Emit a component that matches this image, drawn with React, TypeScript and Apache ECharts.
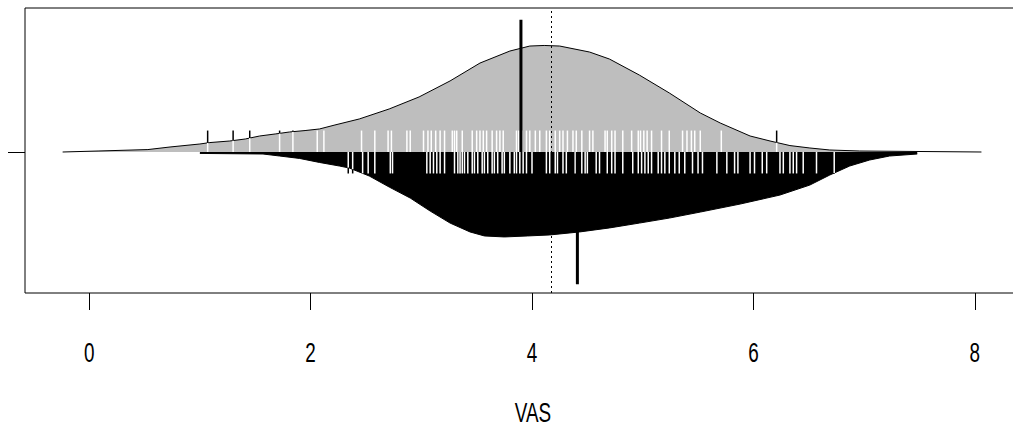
import React, { useEffect, useRef } from "react";
import * as echarts from "echarts";

// ---- data ----
const xTicks = [0, 2, 4, 6, 8];
const axisTitle = "VAS";

// grey (upper) half: density outline
const greyDensX = [-0.24, 0.08, 0.53, 0.73, 1.0, 1.09, 1.27, 1.41, 1.54, 1.68, 1.81, 1.95, 2.08, 2.22, 2.44, 2.71, 2.98, 3.26, 3.53, 3.8, 3.98, 4.11, 4.25, 4.52, 4.7, 4.97, 5.24, 5.52, 5.7, 5.97, 6.15, 6.33, 6.51, 6.69, 6.96, 8.06];
const greyDensY = [0, 0.007, 0.017, 0.035, 0.056, 0.066, 0.077, 0.091, 0.112, 0.126, 0.14, 0.15, 0.161, 0.189, 0.231, 0.301, 0.385, 0.497, 0.622, 0.706, 0.741, 0.745, 0.741, 0.699, 0.65, 0.538, 0.413, 0.273, 0.203, 0.112, 0.077, 0.045, 0.028, 0.014, 0.007, 0];

// black (lower) half: density outline (drawn downward)
const blackDensX = [1.0, 1.57, 1.72, 1.9, 2.08, 2.26, 2.35, 2.53, 2.71, 2.9, 3.08, 3.26, 3.44, 3.57, 3.75, 3.96, 4.16, 4.43, 4.7, 4.97, 5.24, 5.52, 5.88, 6.24, 6.51, 6.69, 6.87, 7.05, 7.23, 7.48];
const blackDensY = [-0.01, -0.014, -0.028, -0.045, -0.073, -0.098, -0.112, -0.168, -0.245, -0.322, -0.413, -0.497, -0.559, -0.587, -0.594, -0.587, -0.58, -0.559, -0.531, -0.497, -0.462, -0.42, -0.364, -0.301, -0.231, -0.161, -0.098, -0.056, -0.028, -0.014];

// individual observations (bean lines)
const greyRug = [1.07, 1.3, 1.45, 1.72, 1.84, 2.06, 2.12, 2.46, 2.58, 2.7, 2.73, 2.87, 2.9, 3.02, 3.06, 3.09, 3.13, 3.17, 3.21, 3.28, 3.3, 3.32, 3.37, 3.46, 3.5, 3.53, 3.56, 3.59, 3.64, 3.68, 3.71, 3.74, 3.86, 3.88, 3.91, 3.95, 3.98, 4.03, 4.07, 4.13, 4.16, 4.21, 4.25, 4.28, 4.32, 4.37, 4.4, 4.45, 4.52, 4.55, 4.66, 4.68, 4.72, 4.75, 4.82, 4.9, 4.96, 4.98, 5.01, 5.04, 5.08, 5.17, 5.24, 5.36, 5.4, 5.44, 5.47, 5.52, 5.71, 6.21];
const blackRug = [2.34, 2.38, 2.47, 2.52, 2.58, 2.72, 2.74, 3.05, 3.08, 3.11, 3.14, 3.17, 3.21, 3.3, 3.33, 3.35, 3.37, 3.39, 3.42, 3.46, 3.48, 3.51, 3.55, 3.57, 3.6, 3.64, 3.66, 3.69, 3.73, 3.75, 3.8, 3.84, 3.86, 3.89, 3.92, 3.95, 4.0, 4.13, 4.16, 4.21, 4.23, 4.28, 4.31, 4.39, 4.45, 4.48, 4.5, 4.58, 4.61, 4.68, 4.72, 4.75, 4.82, 4.91, 4.96, 4.99, 5.02, 5.05, 5.08, 5.14, 5.17, 5.2, 5.24, 5.29, 5.33, 5.38, 5.45, 5.5, 5.54, 5.67, 5.76, 5.83, 5.86, 5.97, 6.01, 6.08, 6.12, 6.24, 6.27, 6.33, 6.36, 6.39, 6.45, 6.57, 6.73];

const greyMean = 3.9;
const blackMean = 4.41;
const overallMean = 4.17;

// ---- styling constants ----
const X_MIN = -0.58;
const X_MAX = 8.598;
const RUG_LEN = 0.15;
const MEAN_LEN = 0.925;
const FONT = "'Liberation Sans', Arial, Helvetica, sans-serif";
const TEXT_SIZE = 27;
const TEXT_SX = 0.7;
const LABEL_Y = 353;
const TITLE_Y = 413;

function interp(xs: number[], ys: number[], x: number): number {
  if (x <= xs[0]) return ys[0];
  if (x >= xs[xs.length - 1]) return ys[ys.length - 1];
  for (let i = 1; i < xs.length; i++) {
    if (x <= xs[i]) {
      const t = (x - xs[i - 1]) / (xs[i] - xs[i - 1]);
      return ys[i - 1] + t * (ys[i] - ys[i - 1]);
    }
  }
  return 0;
}

function makeRug(rug: number[], dx: number[], dy: number[], sign: number) {
  return {
    type: "custom",
    z: 3,
    silent: true,
    clip: false,
    data: rug.map((v) => [v, 0]),
    encode: { x: 0, y: 1 },
    renderItem: (_params: any, api: any) => {
      const v = api.value(0) as number;
      const d = Math.abs(interp(dx, dy, v));
      const inside = Math.min(d, RUG_LEN);
      const p0 = api.coord([v, 0]);
      const p1 = api.coord([v, sign * inside]);
      const p2 = api.coord([v, sign * RUG_LEN]);
      const px = p0[0];
      const children: any[] = [
        {
          type: "line",
          shape: { x1: px, y1: p0[1], x2: px, y2: p1[1] },
          style: { stroke: "#ffffff", lineWidth: 1.5 },
        },
      ];
      if (d < RUG_LEN) {
        children.push({
          type: "line",
          shape: { x1: px, y1: p1[1], x2: px, y2: p2[1] },
          style: { stroke: "#000000", lineWidth: 1.5 },
        });
      }
      return { type: "group", children };
    },
  };
}

function textEl(text: string, x: number, y: number) {
  return {
    type: "text",
    x,
    y,
    scaleX: TEXT_SX,
    silent: true,
    style: {
      text,
      fill: "#000000",
      fontSize: TEXT_SIZE,
      fontFamily: FONT,
      align: "center",
      verticalAlign: "middle",
    },
  };
}

export default function App() {
  const ref = useRef<HTMLDivElement>(null);

  useEffect(() => {
    if (!ref.current) return;
    const chart = echarts.init(ref.current, undefined, { renderer: "svg" });
    const option: any = {
      animation: false,
      backgroundColor: "#ffffff",
      grid: {
        left: 25,
        top: 8,
        width: 1016,
        height: 285,
        show: true,
        borderColor: "#000000",
        borderWidth: 1,
        backgroundColor: "transparent",
      },
      xAxis: {
        type: "value",
        min: X_MIN,
        max: X_MAX,
        axisLine: { show: false, onZero: false },
        splitLine: { show: false },
        axisTick: {
          show: true,
          customValues: xTicks,
          length: 17,
          lineStyle: { color: "#000000", width: 1 },
        },
        axisLabel: { show: false, customValues: xTicks },
      },
      yAxis: {
        type: "value",
        min: -0.986,
        max: 1.007,
        axisLine: { show: false, onZero: false },
        splitLine: { show: false },
        axisTick: {
          show: true,
          customValues: [0],
          length: 17,
          lineStyle: { color: "#000000", width: 1 },
        },
        axisLabel: { show: false, customValues: [0] },
      },
      series: [
        {
          type: "line",
          z: 1,
          silent: true,
          symbol: "none",
          data: [[overallMean, 0]],
          lineStyle: { width: 0 },
          markLine: {
            silent: true,
            symbol: ["none", "none"],
            label: { show: false },
            lineStyle: { color: "#000000", type: [2, 3], width: 1 },
            data: [{ xAxis: overallMean }],
          },
        },
        {
          type: "line",
          z: 2,
          silent: true,
          symbol: "none",
          data: greyDensX.map((x, i) => [x, greyDensY[i]]),
          lineStyle: { color: "#000000", width: 1 },
          areaStyle: { color: "#BEBEBE", opacity: 1, origin: 0 },
        },
        {
          type: "line",
          z: 2,
          silent: true,
          symbol: "none",
          data: blackDensX.map((x, i) => [x, blackDensY[i]]),
          lineStyle: { color: "#000000", width: 1 },
          areaStyle: { color: "#000000", opacity: 1, origin: 0 },
        },
        makeRug(greyRug, greyDensX, greyDensY, 1),
        makeRug(blackRug, blackDensX, blackDensY, -1),
        {
          type: "line",
          z: 4,
          silent: true,
          symbol: "none",
          data: [
            [greyMean, 0],
            [greyMean, MEAN_LEN],
          ],
          lineStyle: { color: "#000000", width: 3 },
        },
        {
          type: "line",
          z: 4,
          silent: true,
          symbol: "none",
          data: [
            [blackMean, 0],
            [blackMean, -MEAN_LEN],
          ],
          lineStyle: { color: "#000000", width: 3 },
        },
      ],
    };
    chart.setOption(option);

    const elements: any[] = xTicks.map((v) => {
      const p = chart.convertToPixel({ gridIndex: 0 }, [v, 0]) as number[];
      return textEl(String(v), p[0], LABEL_Y);
    });
    const mid = chart.convertToPixel({ gridIndex: 0 }, [(X_MIN + X_MAX) / 2, 0]) as number[];
    elements.push(textEl(axisTitle, mid[0], TITLE_Y));
    chart.setOption({ graphic: { elements } });

    return () => chart.dispose();
  }, []);

  return (
    <div
      ref={ref}
      style={{ position: "fixed", left: 0, top: 0, width: 1070, height: 436, background: "#fff" }}
    />
  );
}
